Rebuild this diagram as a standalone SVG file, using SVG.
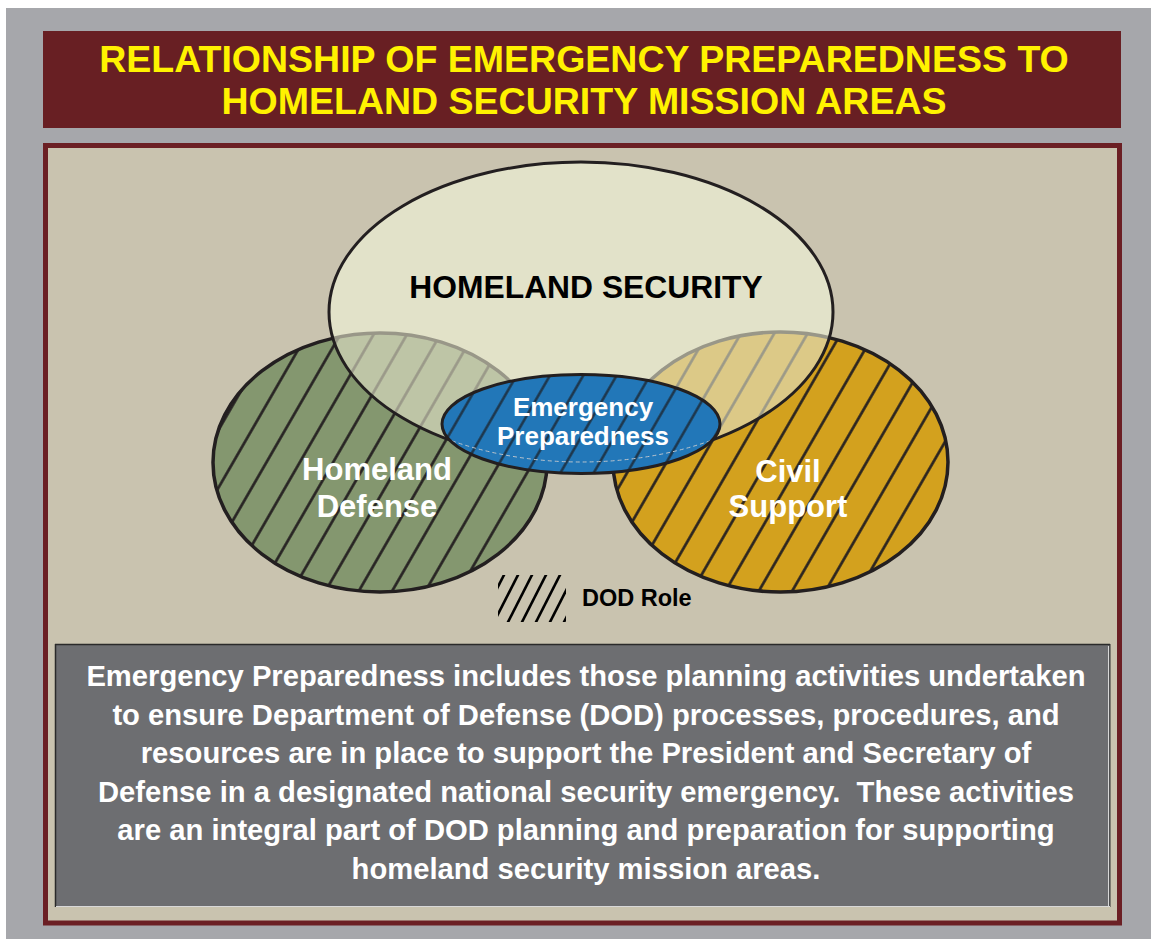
<svg xmlns="http://www.w3.org/2000/svg" xmlns:xlink="http://www.w3.org/1999/xlink" width="1151" height="939" viewBox="0 0 1151 939">
<style>
  text { font-family: "Liberation Sans", Arial, sans-serif; font-weight: bold; text-anchor: middle; }
  .title { fill: #fff200; font-size: 37.5px; }
  .label-white { fill: #ffffff; font-size: 31px; }
  .label-dark { fill: #000000; font-size: 31.8px; }
  .label-ep { fill: #ffffff; font-size: 26px; }
  .body { fill: #ffffff; font-size: 29.2px; }
  .outline { fill: none; stroke: #231f20; }
</style>
<defs>
  <pattern id="hatch" patternUnits="userSpaceOnUse" x="-14.435" y="0" width="28.87" height="40" patternTransform="rotate(30)">
    <line x1="14.435" y1="-2" x2="14.435" y2="42" stroke="#231f20" stroke-width="2.6"/>
  </pattern>
  <pattern id="hatch-ep" patternUnits="userSpaceOnUse" x="-14.435" y="0" width="28.87" height="40" patternTransform="rotate(30)">
    <line x1="14.435" y1="-2" x2="14.435" y2="42" stroke="#1c2630" stroke-opacity="0.85" stroke-width="2.4"/>
  </pattern>
  <g id="hd-shape">
    <ellipse cx="380" cy="462.5" rx="167" ry="129.5" fill="#84976f"/>
    <ellipse cx="380" cy="462.5" rx="167" ry="129.5" fill="url(#hatch)"/>
    <ellipse cx="380" cy="462.5" rx="167" ry="129.5" class="outline" stroke-width="3.5"/>
  </g>
  <g id="cs-shape">
    <ellipse cx="780.5" cy="462" rx="167.5" ry="130" fill="#d3a11e"/>
    <ellipse cx="780.5" cy="462" rx="167.5" ry="130" fill="url(#hatch)"/>
    <ellipse cx="780.5" cy="462" rx="167.5" ry="130" class="outline" stroke-width="3.5"/>
  </g>
  <clipPath id="hs-clip"><ellipse cx="581" cy="312" rx="252" ry="150"/></clipPath>
  <clipPath id="ep-clip"><ellipse cx="581" cy="424" rx="139" ry="49.5"/></clipPath>
  <clipPath id="legend-clip"><rect x="498" y="575" width="68" height="47"/></clipPath>
</defs>

<!-- background frame -->
<rect x="6" y="8" width="1145" height="931" fill="#a6a7ab"/>
<g id="title">
  <rect x="43" y="31" width="1078" height="97" fill="#681f23"/>
  <text class="title" x="584" y="72">RELATIONSHIP OF EMERGENCY PREPAREDNESS TO</text>
  <text class="title" x="584" y="114">HOMELAND SECURITY MISSION AREAS</text>
</g>
<rect x="45.5" y="145.5" width="1074" height="777.5" fill="#c9c3af" stroke="#6b1f24" stroke-width="5"/>

<g id="connectors"></g>

<g id="node-homeland-defense">
  <use xlink:href="#hd-shape" href="#hd-shape"/>
  <text class="label-white" x="377" y="480">Homeland</text>
  <text class="label-white" x="377" y="517">Defense</text>
</g>

<g id="node-civil-support">
  <use xlink:href="#cs-shape" href="#cs-shape"/>
  <text class="label-white" x="788" y="482">Civil</text>
  <text class="label-white" x="788" y="517">Support</text>
</g>

<g id="node-homeland-security">
  <ellipse cx="581" cy="312" rx="252" ry="150" fill="#e2e2c9"/>
  <g clip-path="url(#hs-clip)" opacity="0.38">
    <use xlink:href="#hd-shape" href="#hd-shape"/>
    <use xlink:href="#cs-shape" href="#cs-shape"/>
  </g>
  <ellipse cx="581" cy="312" rx="252" ry="150" class="outline" stroke-width="3"/>
  <text class="label-dark" x="586" y="298">HOMELAND SECURITY</text>
</g>

<g id="node-emergency-preparedness">
  <ellipse cx="581" cy="424" rx="139" ry="49.5" fill="#2277b8"/>
  <ellipse cx="581" cy="424" rx="139" ry="49.5" fill="url(#hatch-ep)"/>
  <ellipse cx="581" cy="312" rx="252" ry="150" fill="none" stroke="#b9c3cc" stroke-width="1" stroke-dasharray="4 3" clip-path="url(#ep-clip)"/>
  <ellipse cx="581" cy="424" rx="139" ry="49.5" class="outline" stroke-width="3"/>
  <text class="label-ep" x="583" y="416">Emergency</text>
  <text class="label-ep" x="583" y="445">Preparedness</text>
</g>

<g id="legend">
  <g clip-path="url(#legend-clip)" stroke="#000000" stroke-width="2.6">
    <line x1="478" y1="626" x2="506" y2="571"/>
    <line x1="492" y1="626" x2="520" y2="571"/>
    <line x1="506" y1="626" x2="534" y2="571"/>
    <line x1="520" y1="626" x2="548" y2="571"/>
    <line x1="534" y1="626" x2="562" y2="571"/>
    <line x1="548" y1="626" x2="576" y2="571"/>
    <line x1="562" y1="626" x2="590" y2="571"/>
  </g>
  <text x="582" y="606" style="text-anchor:start; font-size:23.5px; fill:#000000">DOD Role</text>
</g>

<g id="description">
  <rect x="55" y="644" width="1055" height="263" fill="#6d6e71"/>
  <line x1="55" y1="644.5" x2="1110" y2="644.5" stroke="#2a2a2a" stroke-width="1.5"/>
  <line x1="55.5" y1="644" x2="55.5" y2="907" stroke="#2a2a2a" stroke-width="1.5"/>
  <line x1="1108.5" y1="646" x2="1108.5" y2="906" stroke="#d8d8d8" stroke-width="1"/>
  <line x1="1110" y1="644" x2="1110" y2="907" stroke="#333333" stroke-width="1"/>
  <line x1="56" y1="906.5" x2="1110" y2="906.5" stroke="#d8d8d8" stroke-width="1"/>
  <text class="body" x="586" y="686">Emergency Preparedness includes those planning activities undertaken</text>
  <text class="body" x="586" y="724.5">to ensure Department of Defense (DOD) processes, procedures, and</text>
  <text class="body" x="586" y="763">resources are in place to support the President and Secretary of</text>
  <text class="body" x="586" y="801.5">Defense in a designated national security emergency.&#160; These activities</text>
  <text class="body" x="586" y="840">are an integral part of DOD planning and preparation for supporting</text>
  <text class="body" x="586" y="878.5">homeland security mission areas.</text>
</g>
</svg>
